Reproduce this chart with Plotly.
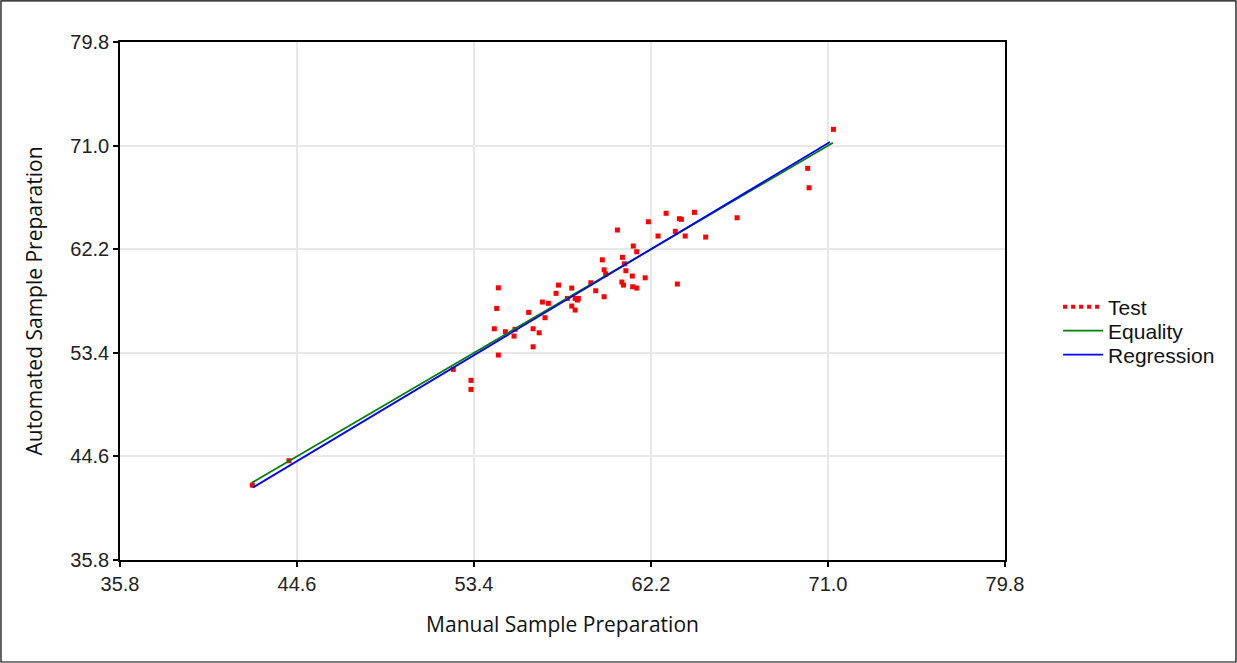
import plotly.graph_objects as go

# Test points (Manual, Automated)
test_x = [42.38, 44.20, 52.37, 53.25, 53.25, 54.61, 54.53, 54.41, 54.61, 54.96,
          55.39, 55.44, 56.12, 56.34, 56.64, 56.34, 56.80, 57.10, 56.93, 57.48,
          57.60, 58.26, 58.04, 58.43, 58.59, 58.54, 58.26, 58.43, 59.21, 59.45,
          59.87, 59.78, 59.87, 59.95, 60.53, 60.78, 60.88, 60.95, 61.27, 60.75,
          60.83, 61.29, 61.49, 61.91, 61.32, 61.49, 62.07, 62.55, 62.95, 63.41,
          63.51, 63.61, 63.71, 63.90, 64.36, 64.92, 66.48, 69.99, 70.06, 71.27]
test_y = [42.16, 44.23, 51.99, 51.06, 50.29, 58.92, 57.17, 55.44, 53.21, 55.19,
          54.82, 55.39, 56.83, 55.44, 55.10, 53.91, 57.71, 57.60, 56.38, 58.45,
          59.15, 58.90, 58.02, 58.02, 58.02, 57.88, 57.37, 57.03, 59.35, 58.67,
          58.16, 61.30, 60.45, 60.09, 63.83, 61.51, 60.96, 60.37, 59.92, 59.41,
          59.15, 59.01, 58.90, 59.77, 62.47, 61.98, 64.53, 63.32, 65.25, 63.72,
          59.24, 64.79, 64.74, 63.32, 65.33, 63.23, 64.87, 69.07, 67.42, 72.38]

equality_x = [42.35, 71.25]
equality_y = [42.35, 71.25]
regression_x = [42.40, 71.10]
regression_y = [41.95, 71.30]

tick_vals = [35.8, 44.6, 53.4, 62.2, 71.0, 79.8]
tick_text = ["35.8", "44.6", "53.4", "62.2", "71.0", "79.8"]

fig = go.Figure()
fig.add_trace(go.Scatter(x=test_x, y=test_y, mode="markers", showlegend=False,
                         marker=dict(symbol="square", size=5, color="#ff0000"),
                         name="Test"))
fig.add_trace(go.Scatter(x=[None], y=[None], mode="lines", name="Test", legend="legend",
                         line=dict(color="#ff0000", width=4, dash="dot")))
fig.add_trace(go.Scatter(x=equality_x, y=equality_y, mode="lines", name="Equality", legend="legend2",
                         line=dict(color="#008000", width=1.8)))
fig.add_trace(go.Scatter(x=regression_x, y=regression_y, mode="lines", name="Regression", legend="legend3",
                         line=dict(color="#0000ff", width=1.8)))

axis_common = dict(range=[35.8, 79.8], tickmode="array", tickvals=tick_vals, ticktext=tick_text,
                   showgrid=True, gridcolor="#e8e8e8", gridwidth=2, zeroline=False,
                   showline=True, linecolor="black", linewidth=1.5, mirror=True,
                   ticks="outside", ticklen=5, tickcolor="black", tickwidth=1.5,
                   tickfont=dict(family="Liberation Sans, Arial", size=20, color="#222222"))

leg_font = dict(family="Liberation Sans, Arial", size=21, color="#111111")
leg_common = dict(x=1.06, xanchor="left", yanchor="middle", font=leg_font,
                  itemwidth=40, bgcolor="rgba(0,0,0,0)")

fig.update_layout(
    width=1237, height=663,
    paper_bgcolor="white", plot_bgcolor="white",
    margin=dict(l=120, r=232, t=42, b=103),
    xaxis=dict(**axis_common, title=dict(text="Manual Sample Preparation", standoff=24,
               font=dict(family="Open Sans", size=21, color="#111111"))),
    yaxis=dict(**axis_common, title=dict(text="Automated Sample Preparation", standoff=22,
               font=dict(family="Open Sans", size=21, color="#111111"))),
    legend=dict(**leg_common, y=0.4884),
    legend2=dict(**leg_common, y=0.4421),
    legend3=dict(**leg_common, y=0.3958),
    showlegend=True,
    shapes=[dict(type="rect", xref="paper", yref="paper",
                 x0=-0.1345, x1=1.261, y0=-0.1969, y1=1.0792,
                 line=dict(color="black", width=1.2), fillcolor="rgba(0,0,0,0)")],
)

fig.write_html("out.html", config={"displayModeBar": False},
               post_script="document.body.style.margin='0';")
